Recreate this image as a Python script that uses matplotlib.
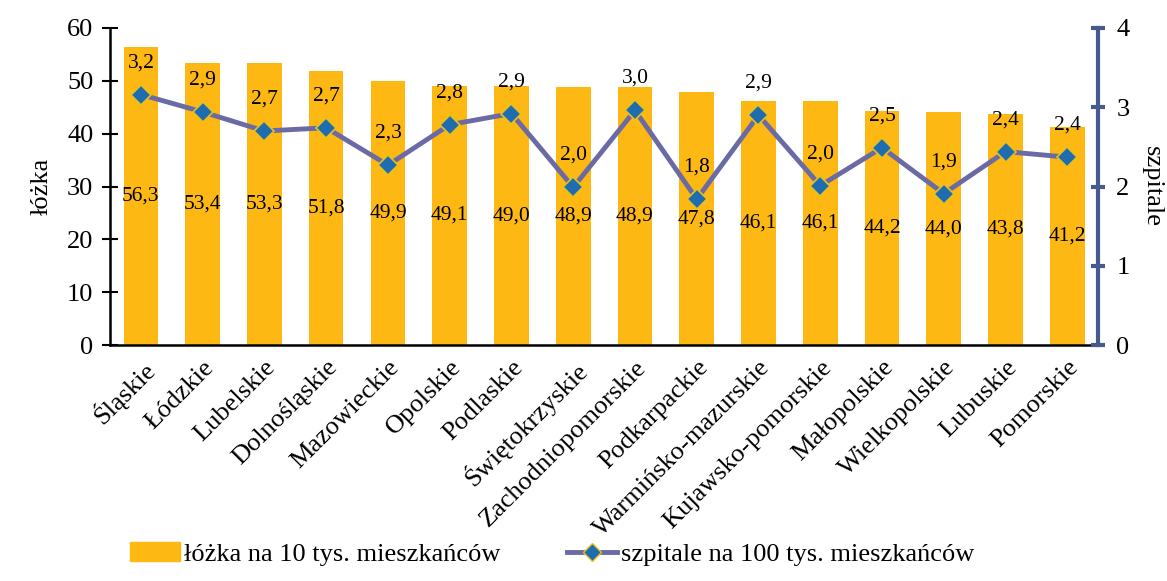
import numpy as np
import matplotlib
matplotlib.use("Agg")
import matplotlib.pyplot as plt
from matplotlib.lines import Line2D
from matplotlib.patches import Patch

plt.rcParams['font.family'] = ['Liberation Serif', 'DejaVu Serif']

# dane
wojewodztwa = ["Śląskie", "Łódzkie", "Lubelskie", "Dolnośląskie", "Mazowieckie",
               "Opolskie", "Podlaskie", "Świętokrzyskie", "Zachodniopomorskie",
               "Podkarpackie", "Warmińsko-mazurskie", "Kujawsko-pomorskie",
               "Małopolskie", "Wielkopolskie", "Lubuskie", "Pomorskie"]
lozka = [56.3, 53.4, 53.3, 51.8, 49.9, 49.1, 49.0, 48.9, 48.9, 47.8,
         46.1, 46.1, 44.2, 44.0, 43.8, 41.2]
szpitale = [3.16, 2.94, 2.70, 2.74, 2.27, 2.78, 2.92, 1.99, 2.96, 1.84,
            2.90, 2.01, 2.49, 1.91, 2.44, 2.37]

kolor_slupki = "#FDB813"
kolor_linia = "#6A6AA4"
kolor_os = "#465A8E"

fig = plt.figure(figsize=(11.67, 5.81), dpi=100)
ax = fig.add_axes([0.0943, 0.406, 0.8467, 0.546])
ax2 = ax.twinx()

x = np.arange(len(wojewodztwa))
ax.bar(x, lozka, width=0.56, color=kolor_slupki, zorder=2)
for xi, v in zip(x, lozka):
    ax.text(xi, v / 2, f"{v:.1f}".replace(".", ","), ha="center", va="center",
            fontsize=15.5, zorder=3)

ax.set_xlim(-0.5, 15.5)
ax.set_ylim(0, 60)
ax.set_yticks(range(0, 61, 10))
ax.set_xticks(x)
ax.set_xticklabels(wojewodztwa, rotation=45, ha="right", rotation_mode="anchor",
                   fontsize=19)
ax.tick_params(axis="x", length=0, pad=8)
ax.tick_params(axis="y", direction="inout", length=12, width=1.5, labelsize=19, pad=6)
ax.spines["top"].set_visible(False)
ax.spines["right"].set_visible(False)
ax.spines["left"].set_linewidth(1.8)
ax.spines["bottom"].set_linewidth(1.8)
ax.set_ylabel("łóżka", fontsize=19, labelpad=10)

ax2.plot(x, szpitale, color=kolor_linia, lw=3.5, marker="D", markersize=10,
         markerfacecolor="#1F6DB0", markeredgecolor="#E8C21A", markeredgewidth=1.2,
         zorder=4)
for xi, v in zip(x, szpitale):
    ax2.annotate(f"{v:.1f}".replace(".", ","), (xi, v), xytext=(0, 23),
                 textcoords="offset points", ha="center", va="center", fontsize=15.5)
ax2.set_ylim(0, 4)
ax2.set_yticks(range(0, 5))
ax2.tick_params(axis="y", direction="inout", length=10, width=3, color=kolor_os,
                labelsize=19, pad=8)
for s in ["top", "left", "bottom"]:
    ax2.spines[s].set_visible(False)
ax2.spines["right"].set_linewidth(3)
ax2.spines["right"].set_color(kolor_os)
ax2.set_ylabel("szpitale", fontsize=19, rotation=270, labelpad=24)

uchwyty = [Patch(color=kolor_slupki),
           Line2D([], [], color=kolor_linia, lw=3.5, marker="D", markersize=9,
                  markerfacecolor="#1F6DB0", markeredgecolor="#E8C21A")]
fig.legend(uchwyty, ["łóżka na 10 tys. mieszkańców", "szpitale na 100 tys. mieszkańców"],
           loc="lower center", bbox_to_anchor=(0.473, -0.015), ncol=2, frameon=False,
           fontsize=19, handlelength=1.9, handletextpad=0.15, columnspacing=2.5)

fig.savefig("out.png", dpi=100)
